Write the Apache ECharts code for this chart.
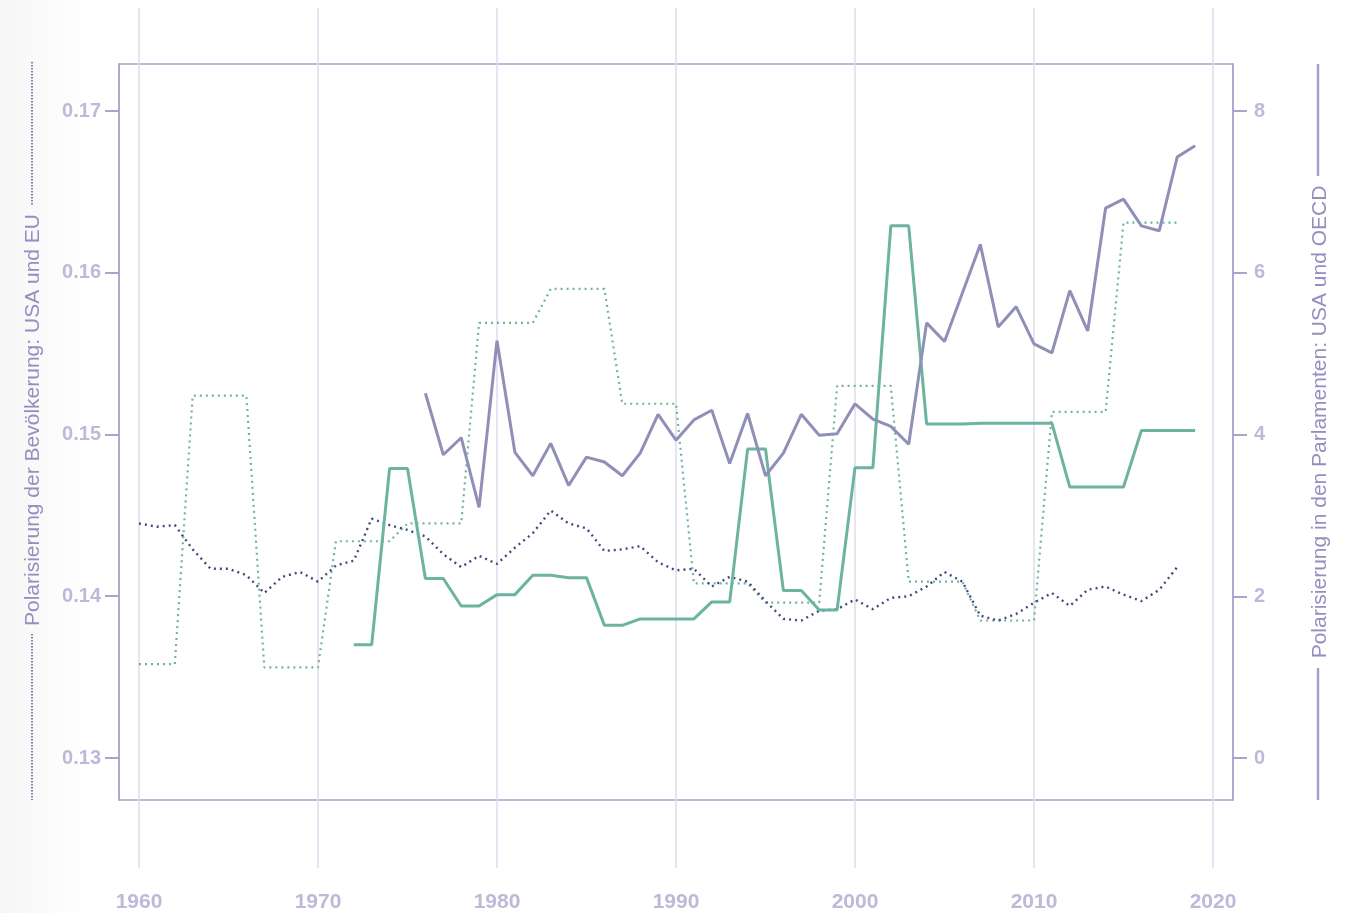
<!DOCTYPE html>
<html>
<head>
<meta charset="utf-8">
<script src="https://cdn.jsdelivr.net/npm/echarts@6/dist/echarts.min.js"></script>
<style>
  html, body { margin: 0; padding: 0; background: #fff; }
  #chart { width: 1351px; height: 913px; }
</style>
</head>
<body>
<div id="chart"></div>
<script>
// Polarisierung der Bevölkerung (linke Achse, gepunktet), Werte ab 1960
const popStart = 1960;
const popUSA = [0.1445, 0.1443, 0.1444, 0.1429, 0.1417, 0.1417, 0.1413, 0.1402, 0.1412, 0.1415,
  0.1409, 0.1419, 0.1422, 0.1448, 0.1444, 0.1441, 0.1437, 0.1426, 0.1418, 0.1425,
  0.1420, 0.1430, 0.1439, 0.1453, 0.1445, 0.1442, 0.1428, 0.1429, 0.1431, 0.1421,
  0.1416, 0.1417, 0.1406, 0.1412, 0.1409, 0.1397, 0.1386, 0.1385, 0.1391, 0.1392,
  0.1398, 0.1392, 0.1399, 0.1400, 0.1406, 0.1415, 0.1409, 0.1388, 0.1385, 0.1389,
  0.1396, 0.1402, 0.1394, 0.1404, 0.1406, 0.1401, 0.1397, 0.1404, 0.1418];
const popEU = [0.1358, 0.1358, 0.1358, 0.1524, 0.1524, 0.1524, 0.1524, 0.1356, 0.1356, 0.1356,
  0.1356, 0.1434, 0.1434, 0.1434, 0.1434, 0.1445, 0.1445, 0.1445, 0.1445, 0.1569,
  0.1569, 0.1569, 0.1569, 0.1590, 0.1590, 0.1590, 0.1590, 0.1519, 0.1519, 0.1519,
  0.1519, 0.1408, 0.1408, 0.1408, 0.1408, 0.1396, 0.1396, 0.1396, 0.1396, 0.1530,
  0.1530, 0.1530, 0.1530, 0.1409, 0.1409, 0.1409, 0.1409, 0.1385, 0.1385, 0.1385,
  0.1385, 0.1514, 0.1514, 0.1514, 0.1514, 0.1631, 0.1631, 0.1631, 0.1631];

// Polarisierung in den Parlamenten (rechte Achse, durchgezogen)
const oecdStart = 1972;
const parlOECD = [1.40, 1.40, 3.58, 3.58, 2.22, 2.22, 1.88, 1.88, 2.02, 2.02,
  2.26, 2.26, 2.23, 2.23, 1.64, 1.64, 1.72, 1.72, 1.72, 1.72,
  1.93, 1.93, 3.82, 3.82, 2.07, 2.07, 1.83, 1.83, 3.59, 3.59,
  6.58, 6.58, 4.13, 4.13, 4.13, 4.14, 4.14, 4.14, 4.14, 4.14,
  3.35, 3.35, 3.35, 3.35, 4.05, 4.05, 4.05, 4.05];
const usaStart = 1976;
const parlUSA = [4.51, 3.75, 3.96, 3.10, 5.16, 3.78, 3.49, 3.89, 3.37, 3.72,
  3.66, 3.49, 3.77, 4.25, 3.93, 4.18, 4.30, 3.64, 4.26, 3.49,
  3.77, 4.25, 3.99, 4.01, 4.38, 4.19, 4.10, 3.88, 5.38, 5.15,
  5.75, 6.35, 5.33, 5.58, 5.12, 5.01, 5.78, 5.28, 6.80, 6.91,
  6.58, 6.52, 7.43, 7.57];

const leftTicks = [0.13, 0.14, 0.15, 0.16, 0.17];
const rightTicks = [0, 2, 4, 6, 8];

const leftTitle = 'Polarisierung der Bevölkerung: USA und EU';
const rightTitle = 'Polarisierung in den Parlamenten: USA und OECD';

function pairs(start, values) {
  return values.map((v, i) => [start + i, v]);
}

const axisColor = '#a7a5cc';
const labelColor = '#bcbad9';
const font = '"Liberation Sans", Arial, sans-serif';

const chart = echarts.init(document.getElementById('chart'));

chart.setOption({
  animation: false,
  backgroundColor: '#ffffff',
  grid: [
    { left: 119, right: 118, top: 64, bottom: 113, show: true, borderColor: axisColor, borderWidth: 1.5, backgroundColor: 'transparent' },
    { left: 139, right: 138, top: 8, bottom: 43 }
  ],
  xAxis: [
    { type: 'value', gridIndex: 0, min: 1958.8827, max: 2021.1173, show: false },
    {
      type: 'value', gridIndex: 1, min: 1960, max: 2020, interval: 10,
      axisLine: { show: false },
      axisTick: { show: false },
      splitLine: { show: true, lineStyle: { color: '#dedcec', width: 1.5 } },
      axisLabel: { color: labelColor, fontSize: 21, fontWeight: 'bold', fontFamily: font, margin: 24, formatter: v => String(v) }
    }
  ],
  yAxis: [
    {
      type: 'value', gridIndex: 0, position: 'left', min: 0.127403, max: 0.172906,
      splitLine: { show: false },
      axisLine: { show: true, lineStyle: { color: axisColor, width: 1.5 } },
      axisTick: { show: true, length: 14, customValues: leftTicks, lineStyle: { color: axisColor, width: 2 } },
      axisLabel: { customValues: leftTicks, color: labelColor, fontSize: 20, fontWeight: 'bold', fontFamily: font, margin: 18, formatter: v => v.toFixed(2) }
    },
    {
      type: 'value', gridIndex: 0, position: 'right', min: -0.5193, max: 8.5811,
      splitLine: { show: false },
      axisLine: { show: true, lineStyle: { color: axisColor, width: 1.5 } },
      axisTick: { show: true, length: 14, customValues: rightTicks, lineStyle: { color: axisColor, width: 2 } },
      axisLabel: { customValues: rightTicks, color: labelColor, fontSize: 20, fontWeight: 'bold', fontFamily: font, margin: 21, formatter: v => String(v) }
    },
    { type: 'value', gridIndex: 1, min: 0, max: 1, show: false }
  ],
  graphic: [
    {
      type: 'rect', z: -1, silent: true,
      shape: { x: 0, y: 0, width: 90, height: 913 },
      style: { fill: new echarts.graphic.LinearGradient(0, 0, 1, 0, [
        { offset: 0, color: '#f6f6f6' }, { offset: 1, color: '#ffffff' }
      ]) }
    },
    {
      type: 'text', x: 33, y: 420, rotation: Math.PI / 2,
      style: { text: leftTitle, fill: '#9390bf', fontSize: 21, fontFamily: font, align: 'center', verticalAlign: 'middle' }
    },
    {
      type: 'text', x: 1320, y: 422, rotation: Math.PI / 2,
      style: { text: rightTitle, fill: '#9390bf', fontSize: 21, fontFamily: font, align: 'center', verticalAlign: 'middle' }
    },
    { type: 'line', shape: { x1: 32, y1: 62, x2: 32, y2: 205 }, style: { stroke: '#7f7db2', lineWidth: 2, lineDash: [1.5, 1.5] } },
    { type: 'line', shape: { x1: 32, y1: 634, x2: 32, y2: 800 }, style: { stroke: '#7f7db2', lineWidth: 2, lineDash: [1.5, 1.5] } },
    { type: 'line', shape: { x1: 1318, y1: 64, x2: 1318, y2: 176 }, style: { stroke: '#a3a1cc', lineWidth: 2.5 } },
    { type: 'line', shape: { x1: 1318, y1: 668, x2: 1318, y2: 800 }, style: { stroke: '#a3a1cc', lineWidth: 2.5 } }
  ],
  series: [
    {
      name: 'Bevölkerung EU', type: 'line', xAxisIndex: 0, yAxisIndex: 0,
      data: pairs(popStart, popEU), showSymbol: false, symbol: 'none',
      lineStyle: { color: '#6fb3a2', width: 2.2, type: [2, 4] }
    },
    {
      name: 'Bevölkerung USA', type: 'line', xAxisIndex: 0, yAxisIndex: 0,
      data: pairs(popStart, popUSA), showSymbol: false, symbol: 'none',
      lineStyle: { color: '#3f4b80', width: 2.4, type: [2, 4] }
    },
    {
      name: 'Parlamente OECD', type: 'line', xAxisIndex: 0, yAxisIndex: 1,
      data: pairs(oecdStart, parlOECD), showSymbol: false, symbol: 'none',
      lineStyle: { color: '#6db3a1', width: 3 }
    },
    {
      name: 'Parlamente USA', type: 'line', xAxisIndex: 0, yAxisIndex: 1,
      data: pairs(usaStart, parlUSA), showSymbol: false, symbol: 'none',
      lineStyle: { color: '#908fb8', width: 3 }
    }
  ]
});
</script>
</body>
</html>
